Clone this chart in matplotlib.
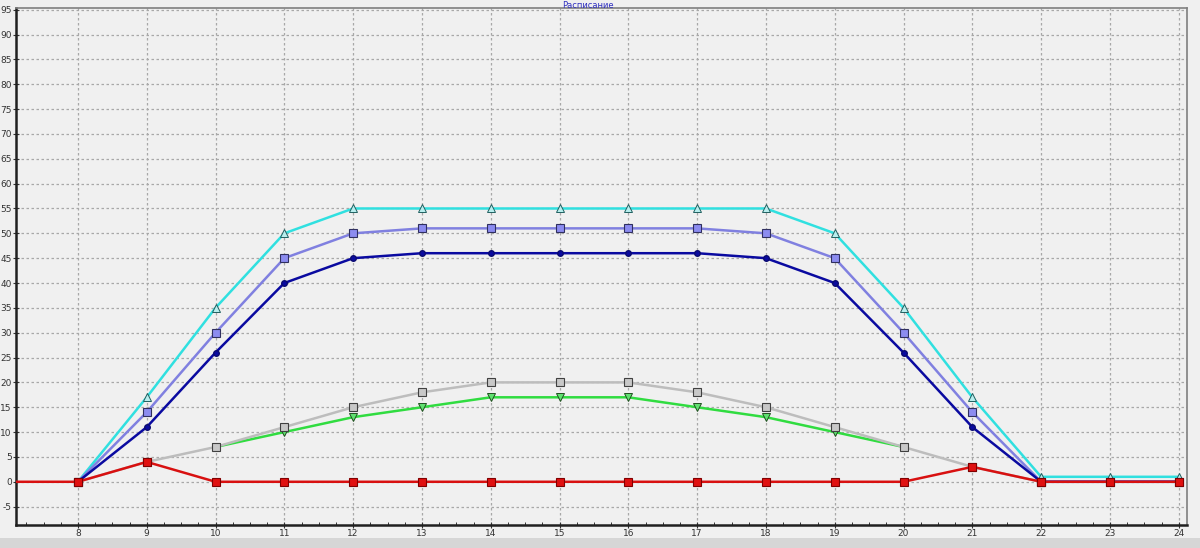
import matplotlib.pyplot as plt
import matplotlib as mpl
from matplotlib.ticker import MultipleLocator

plt.rcParams['axes.unicode_minus'] = False

## data
hours = [8, 9, 10, 11, 12, 13, 14, 15, 16, 17, 18, 19, 20, 21, 22, 23, 24]
cyan_vals = [0, 17, 35, 50, 55, 55, 55, 55, 55, 55, 55, 50, 35, 17, 1, 1, 1]
slate_vals = [0, 14, 30, 45, 50, 51, 51, 51, 51, 51, 50, 45, 30, 14, 0, 0, 0]
navy_vals = [0, 11, 26, 40, 45, 46, 46, 46, 46, 46, 45, 40, 26, 11, 0, 0, 0]

gray_hours = [8, 9, 10, 11, 12, 13, 14, 15, 16, 17, 18, 19, 20, 21, 22]
gray_vals = [0, 4, 7, 11, 15, 18, 20, 20, 20, 18, 15, 11, 7, 3, 0]

green_hours = [10, 11, 12, 13, 14, 15, 16, 17, 18, 19, 20]
green_vals = [7, 10, 13, 15, 17, 17, 17, 15, 13, 10, 7]

red_hours = [7, 8, 9, 10, 11, 12, 13, 14, 15, 16, 17, 18, 19, 20, 21, 22, 23, 24]
red_vals = [0, 0, 4, 0, 0, 0, 0, 0, 0, 0, 0, 0, 0, 0, 3, 0, 0, 0]

bg = '#f0f0f0'
fig = plt.figure(figsize=(12, 5.48), dpi=100, facecolor=bg)
ax = fig.add_axes([16 / 1200, 1 - 525 / 548, 1171 / 1200, 517 / 548])
ax.set_facecolor(bg)

## series
ax.plot(green_hours, green_vals, color='#30dc40', lw=1.8, marker='v', ms=5.5,
        mfc='#60e070', mec='#205020', mew=0.7, zorder=3)
ax.plot(gray_hours, gray_vals, color='#bdbdbd', lw=1.8, marker='s', ms=6,
        mfc='#c8c8c8', mec='#404040', mew=0.8, zorder=4)
ax.plot(hours, cyan_vals, color='#30e0e0', lw=1.8, marker='^', ms=5.5,
        mfc='#b8eeee', mec='#206060', mew=0.7, zorder=5)
ax.plot(hours, slate_vals, color='#8080e0', lw=1.8, marker='s', ms=6,
        mfc='#8c8cf0', mec='#303060', mew=0.8, zorder=6)
ax.plot(hours, navy_vals, color='#0a0aa0', lw=1.8, marker='o', ms=4,
        mfc='#0a0aa0', mec='#0a0a70', zorder=7)
ax.plot(red_hours, red_vals, color='#d81010', lw=1.8, marker='s', ms=6,
        mfc='#e01010', mec='#800000', mew=0.8, zorder=8)

## axes
ax.set_xlim(7.1, 24.12)
ax.set_ylim(-8.7, 95.35)
ax.xaxis.set_minor_locator(MultipleLocator(0.25))
ax.set_xticks(range(8, 25))
ax.set_yticks(range(-5, 96, 5))

ax.grid(True, which='major', color='#a8a8a8', linestyle=(0, (2, 2)), lw=0.9)
ax.tick_params(axis='both', which='major', labelsize=6.5, labelcolor='#333333',
               length=4, width=0.8, color='#333333', direction='inout')
ax.tick_params(axis='x', which='minor', length=2.5, width=0.7, direction='in',
               color='#333333')
ax.tick_params(axis='x', pad=1)
ax.tick_params(axis='y', pad=1)

for side in ['left', 'bottom']:
    ax.spines[side].set_linewidth(1.8)
    ax.spines[side].set_color('#202020')
for side in ['top', 'right']:
    ax.spines[side].set_linewidth(1.2)
    ax.spines[side].set_color('#808080')

## title squeezed against the top edge, as in the screenshot
fig.text(0.49, 0.999, 'Расписание', color='#3030c0', fontsize=6,
         ha='center', va='top')
fig.patches.append(mpl.patches.Rectangle((0, 0), 1, 10 / 548, transform=fig.transFigure,
                                         facecolor='#d6d6d6', edgecolor='none'))

plt.savefig('out.png', dpi=100, facecolor=bg)
